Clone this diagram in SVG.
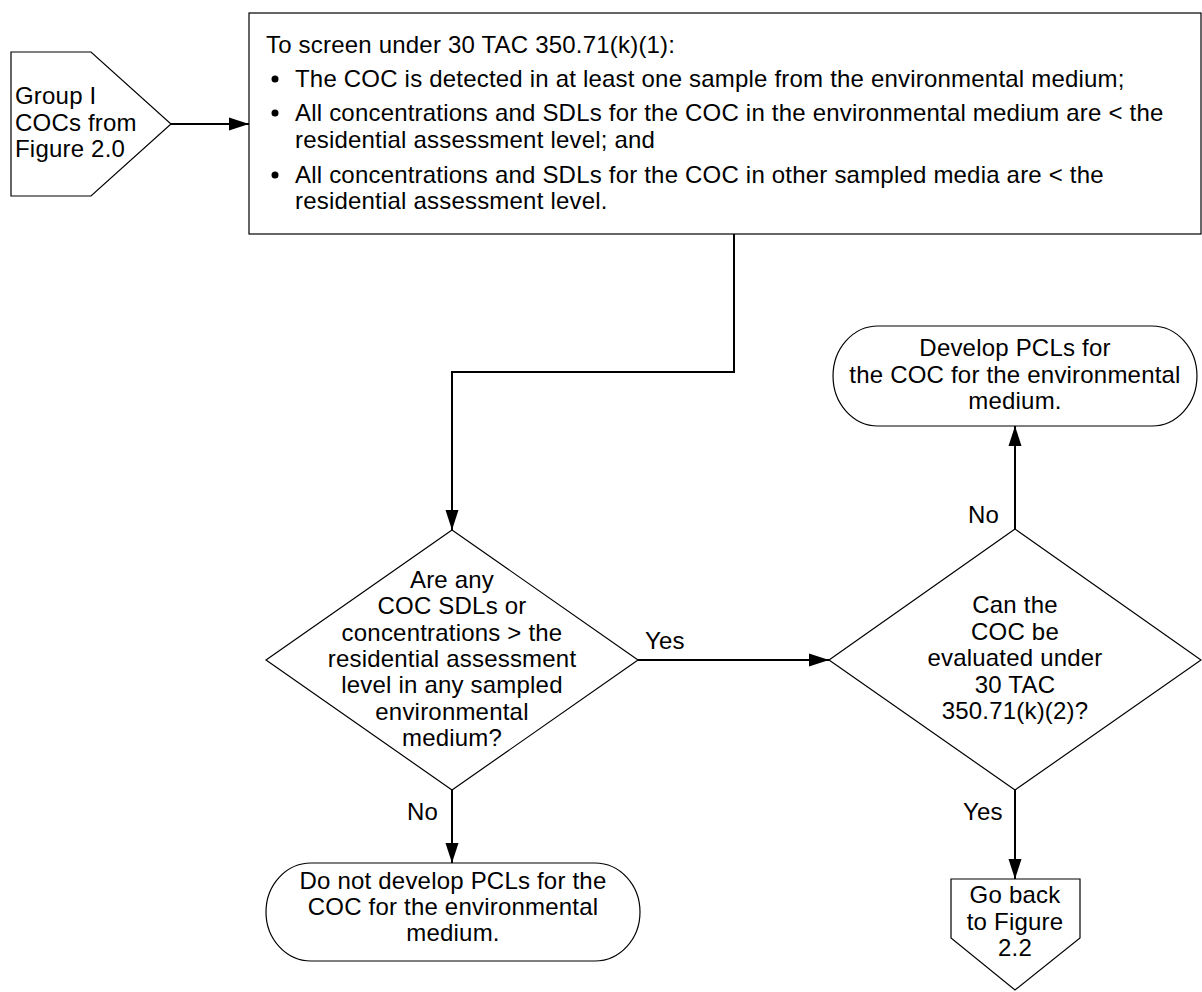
<svg xmlns="http://www.w3.org/2000/svg" width="1202" height="992" viewBox="0 0 1202 992">
<defs>
<style>
.shape{fill:#fff;stroke:#000;stroke-width:1.2}
.conn{fill:none;stroke:#000;stroke-width:2}
text{font-family:"Liberation Sans",Arial,sans-serif;font-size:24px;fill:#000;letter-spacing:0.2px}
.c{text-anchor:middle}
</style>
<marker id="arr" markerUnits="userSpaceOnUse" markerWidth="20" markerHeight="14" refX="20" refY="7" orient="auto">
<path d="M0,0.5 L20,7 L0,13.5 z" fill="#000"/>
</marker>
</defs>
<rect width="1202" height="992" fill="#fff"/>
<g id="connectors">
<path class="conn" d="M171,124 H249" marker-end="url(#arr)"/>
<path class="conn" d="M734,234 V372 H452 V530" marker-end="url(#arr)"/>
<path class="conn" d="M638,660 H829" marker-end="url(#arr)"/>
<path class="conn" d="M452,790 V863" marker-end="url(#arr)"/>
<path class="conn" d="M1015,529 V426" marker-end="url(#arr)"/>
<path class="conn" d="M1015,790 V879" marker-end="url(#arr)"/>
<text x="645" y="649">Yes</text>
<text x="407" y="820">No</text>
<text x="968" y="523">No</text>
<text x="963" y="820">Yes</text>
</g>
<g id="start">
<polygon class="shape" points="11,52 91,52 171,124 91,196 11,196"/>
<text x="15" y="104">Group I</text>
<text x="15" y="130.5">COCs from</text>
<text x="15" y="157">Figure 2.0</text>
</g>
<g id="screen-box">
<rect class="shape" x="249" y="13" width="952" height="221"/>
<text x="266" y="53">To screen under 30 TAC 350.71(k)(1):</text>
<circle cx="275" cy="79" r="3.5"/>
<text x="295" y="87">The COC is detected in at least one sample from the environmental medium;</text>
<circle cx="275" cy="113" r="3.5"/>
<text x="295" y="121">All concentrations and SDLs for the COC in the environmental medium are &lt; the</text>
<text x="295" y="148">residential assessment level; and</text>
<circle cx="275" cy="175" r="3.5"/>
<text x="295" y="183">All concentrations and SDLs for the COC in other sampled media are &lt; the</text>
<text x="295" y="209">residential assessment level.</text>
</g>
<g id="decision1">
<polygon class="shape" points="452,530 638,660 452,790 266,660"/>
<text class="c" x="452" y="588">Are any</text>
<text class="c" x="452" y="614">COC SDLs or</text>
<text class="c" x="452" y="640.5">concentrations &gt; the</text>
<text class="c" x="452" y="667">residential assessment</text>
<text class="c" x="452" y="693">level in any sampled</text>
<text class="c" x="452" y="719.5">environmental</text>
<text class="c" x="452" y="745.5">medium?</text>
</g>
<g id="decision2">
<polygon class="shape" points="1015,529 1201,660 1015,790 829,660"/>
<text class="c" x="1015" y="613">Can the</text>
<text class="c" x="1015" y="639.5">COC be</text>
<text class="c" x="1015" y="666">evaluated under</text>
<text class="c" x="1015" y="692.5">30 TAC</text>
<text class="c" x="1015" y="719">350.71(k)(2)?</text>
</g>
<g id="develop-pcls">
<path class="shape" d="M878,326 H1152 A45,50 0 0 1 1152,426 H878 A45,50 0 0 1 878,326 Z"/>
<text class="c" x="1015" y="356">Develop PCLs for</text>
<text class="c" x="1015" y="382.5">the COC for the environmental</text>
<text class="c" x="1015" y="409">medium.</text>
</g>
<g id="no-pcls">
<path class="shape" d="M311,863 H595 A45,49 0 0 1 595,961 H311 A45,49 0 0 1 311,863 Z"/>
<text class="c" x="453" y="889">Do not develop PCLs for the</text>
<text class="c" x="453" y="915">COC for the environmental</text>
<text class="c" x="453" y="941">medium.</text>
</g>
<g id="go-back">
<polygon class="shape" points="951,879 1080,879 1080,938 1015,990 951,938"/>
<text class="c" x="1015" y="903">Go back</text>
<text class="c" x="1015" y="929.5">to Figure</text>
<text class="c" x="1015" y="956">2.2</text>
</g>
</svg>
